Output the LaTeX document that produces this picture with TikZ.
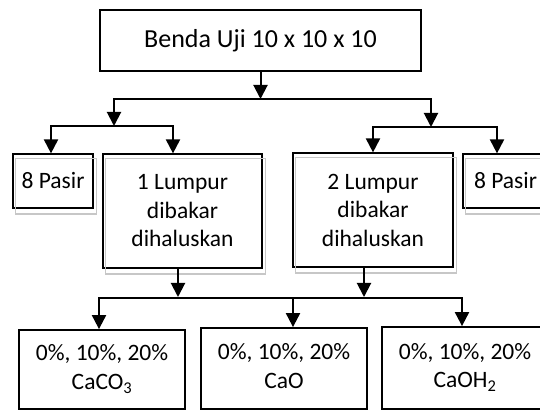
\documentclass[tikz,border=0pt]{standalone}
\usepackage{fontspec}
\setmainfont{Carlito}
\usetikzlibrary{arrows.meta}
\newcommand{\lowtext}[1]{\raisebox{-4pt}{\begin{tabular}{@{}c@{}}#1\end{tabular}}}
\begin{document}
\begin{tikzpicture}[x=1pt,y=-1pt,
  every node/.style={font=\fontsize{23.5}{28.5}\selectfont, align=center, inner sep=0pt},
  thickbox/.style={draw=black, line width=1.8pt},
  thinbox/.style={draw=black, line width=1.2pt},
  shadowline/.style={draw=black!22, line width=1.2pt},
  conn/.style={line width=2pt, line cap=rect},
  arr/.style={line width=2pt, -{Triangle[width=14pt,length=14pt]}}]
\useasboundingbox (0,0) rectangle (540,411);
\clip (0,0) rectangle (540,411);
% boxes
\node[thickbox, minimum width=321pt, minimum height=61pt, font=\fontsize{26}{31}\selectfont] (top) at (260.5,40.5) {Benda Uji 10 x 10 x 10};
\node[thinbox, minimum width=80pt, minimum height=54pt] (pasirL) at (53,181) {8 Pasir};
\node[thinbox, minimum width=159pt, minimum height=114pt] (lump1) at (182.5,211) {1 Lumpur\\dibakar\\dihaluskan};
\node[thinbox, minimum width=160pt, minimum height=114pt] (lump2) at (373,210) {2 Lumpur\\dibakar\\dihaluskan};
\node[thinbox, minimum width=85pt, minimum height=54pt] (pasirR) at (505.5,181) {8 Pasir};
\node[thickbox, minimum width=166pt, minimum height=79pt] (b1) at (102,369.5) {\lowtext{0\%, 10\%, 20\%\\CaCO\textsubscript{3}}};
\node[thickbox, minimum width=166pt, minimum height=81pt] (b2) at (284,368.5) {\lowtext{0\%, 10\%, 20\%\\CaO}};
\node[thickbox, minimum width=166pt, minimum height=82pt] (b3) at (465,368) {\lowtext{0\%, 10\%, 20\%\\CaOH\textsubscript{2}}};
% shadows
\foreach \n in {pasirL,lump1,lump2,pasirR}
  \draw[shadowline] ([shift={(3,5.5)}]\n.north west) rectangle ([shift={(3,5.5)}]\n.south east);
% junction coordinates
\coordinate (hA) at (114,99);
\coordinate (hB) at (431,99);
\coordinate (lA) at (51,126);
\coordinate (lB) at (173,126);
\coordinate (rA) at (373,127);
\coordinate (rB) at (497,127);
\coordinate (u1) at (178,297);
\coordinate (u2) at (364,297);
\coordinate (dA) at (99,298);
\coordinate (dB) at (293,298);
\coordinate (dC) at (462,298);
% connectors
\draw[arr] (top.south) -- (top.south |- hA);
\draw[conn] (hA) -- (hB);
\draw[arr] (hA) -- (hA |- lA);
\draw[conn] (lA) -- (lB);
\draw[arr] (lA) -- (lA |- pasirL.north);
\draw[arr] (lB) -- (lB |- lump1.north);
\draw[arr] (hB) -- (hB |- rA);
\draw[conn] (rA) -- (rB);
\draw[arr] (rA) -- (rA |- lump2.north);
\draw[arr] (rB) -- (rB |- pasirR.north);
\draw[arr] (u1 |- lump1.south) -- (u1);
\draw[arr] (u2 |- lump2.south) -- (u2);
\draw[conn] (dA) -- (dC);
\draw[arr] (dA) -- (dA |- b1.north);
\draw[arr] (dB) -- (dB |- b2.north);
\draw[arr] (dC) -- (dC |- b3.north);
\end{tikzpicture}
\end{document}
